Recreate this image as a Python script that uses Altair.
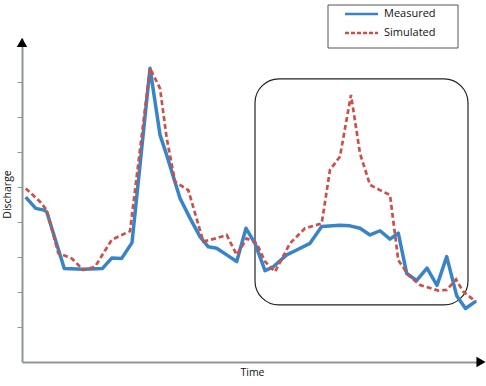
import altair as alt
import pandas as pd

# Measured series (time units, discharge in tick units)
meas_t = [0.37, 1.37, 2.2, 2.47, 4.23, 6.13, 8.03, 8.97, 9.97, 11.0, 12.8, 13.8, 14.47, 15.8,
          16.8, 17.8, 18.63, 19.47, 20.47, 21.47, 22.4, 23.3, 24.3, 25.13, 26.47, 27.47, 28.8,
          29.97, 31.8, 32.8, 33.8, 34.8, 35.8, 36.8, 37.63, 38.47, 39.47, 40.5, 41.5, 42.47,
          43.47, 44.35, 45.4]
meas_v = [4.71, 4.39, 4.34, 4.29, 2.67, 2.65, 2.67, 2.97, 2.96, 3.41, 8.39, 6.49, 5.91, 4.68,
          4.11, 3.58, 3.29, 3.25, 3.06, 2.87, 3.82, 3.39, 2.61, 2.72, 3.06, 3.2, 3.39,
          3.87, 3.91, 3.89, 3.82, 3.63, 3.75, 3.51, 3.68, 2.53, 2.33, 2.68, 2.19, 3.01,
          1.89, 1.53, 1.74]

# Simulated series
sim_t = [0.37, 1.8, 2.47, 3.63, 4.97, 6.13, 7.3, 8.97, 10.8, 12.8, 13.8, 14.47, 15.3, 16.63,
         18.13, 19.47, 20.47, 21.47, 22.47, 23.47, 24.3, 25.3, 26.8, 28.3, 29.97, 30.8, 31.8,
         32.9, 33.8, 34.8, 35.8, 36.8, 37.63, 38.63, 39.8, 41.63, 42.47, 43.4, 44.13, 45.4]
sim_v = [4.96, 4.58, 4.34, 3.11, 2.96, 2.63, 2.72, 3.49, 3.74, 8.39, 7.82, 6.4, 5.15, 4.91,
         3.44, 3.54, 3.63, 3.06, 3.53, 3.39, 2.87, 2.58, 3.39, 3.82, 3.96, 5.49, 5.87,
         7.63, 5.96, 5.06, 4.91, 4.77, 2.91, 2.49, 2.2, 2.04, 2.06, 2.36, 2.01, 1.72]

series_names = ["Measured", "Simulated"]
series_colors = ["#3884c8", "#cc4f48"]

# Highlighted period (data coordinates)
box_t = [23.3, 44.6]
box_v = [1.63, 8.09]

T_MAX = 46.0
V_MAX = 9.257

meas_df = pd.DataFrame({"t": meas_t, "v": meas_v, "series": series_names[0]})
sim_df = pd.DataFrame({"t": sim_t, "v": sim_v, "series": series_names[1]})
box_df = pd.DataFrame({"t1": [box_t[0]], "t2": [box_t[1]], "v1": [box_v[0]], "v2": [box_v[1]]})
yarrow_df = pd.DataFrame({"t": [0.0], "v": [9.13]})
xarrow_df = pd.DataFrame({"t": [45.9], "v": [0.0]})
leg_meas_df = pd.DataFrame({"series": [series_names[0]]})
leg_sim_df = pd.DataFrame({"series": [series_names[1]]})

xscale = alt.Scale(domain=[0, T_MAX], nice=False, zero=False)
yscale = alt.Scale(domain=[0, V_MAX], nice=False, zero=False)

FONT = "Open Sans"

xaxis = alt.Axis(title="Time", ticks=False, labels=False, grid=False,
                 domainColor="#8e9696", domainWidth=2, titleFont=FONT,
                 titleFontSize=10.5, titleFontWeight="normal", titleColor="#111",
                 titlePadding=5)
yaxis = alt.Axis(title="Discharge", values=[1, 2, 3, 4, 5, 6, 7, 8], labels=False,
                 grid=False, tickSize=5, tickColor="#8e9696", tickWidth=1,
                 domainColor="#8e9696", domainWidth=2, titleFont=FONT,
                 titleFontSize=10.5, titleFontWeight="normal", titleColor="#111",
                 titlePadding=4, titleY=156)

box = alt.Chart(box_df).mark_rect(cornerRadius=24, stroke="#222", strokeWidth=1.2,
                                  fillOpacity=0).encode(
    x=alt.X("t1:Q", scale=xscale, axis=xaxis), x2="t2:Q",
    y=alt.Y("v1:Q", scale=yscale, axis=yaxis), y2="v2:Q")

meas = alt.Chart(meas_df).mark_line(strokeWidth=3.5, strokeJoin="round",
                                    color=series_colors[0]).encode(
    x=alt.X("t:Q", scale=xscale, axis=xaxis),
    y=alt.Y("v:Q", scale=yscale, axis=yaxis))

sim = alt.Chart(sim_df).mark_line(strokeWidth=2.7, strokeDash=[5, 3],
                                  color=series_colors[1]).encode(
    x=alt.X("t:Q", scale=xscale, axis=xaxis),
    y=alt.Y("v:Q", scale=yscale, axis=yaxis))

yarrow = alt.Chart(yarrow_df).mark_point(shape="triangle-up", filled=True, color="black",
                                         size=110, opacity=1).encode(
    x=alt.X("t:Q", scale=xscale, axis=xaxis), y=alt.Y("v:Q", scale=yscale, axis=yaxis))
xarrow = alt.Chart(xarrow_df).mark_point(shape="triangle-right", filled=True, color="black",
                                         size=110, opacity=1).encode(
    x=alt.X("t:Q", scale=xscale, axis=xaxis), y=alt.Y("v:Q", scale=yscale, axis=yaxis))

# Legend (drawn as a boxed key above the plot area)
leg_box = alt.Chart(leg_meas_df).mark_rect(fill="white", stroke="#555", strokeWidth=1).encode(
    x=alt.value(306), x2=alt.value(436), y=alt.value(-33), y2=alt.value(10))
leg_l1 = alt.Chart(leg_meas_df).mark_rule(strokeWidth=2.5, color=series_colors[0]).encode(
    x=alt.value(323), x2=alt.value(356), y=alt.value(-24))
leg_l2 = alt.Chart(leg_sim_df).mark_rule(strokeWidth=2.5, strokeDash=[4, 2],
                                         color=series_colors[1]).encode(
    x=alt.value(323), x2=alt.value(356), y=alt.value(-5))
leg_t1 = alt.Chart(leg_meas_df).mark_text(align="left", baseline="middle", font=FONT,
                                          fontSize=11, color="#111").encode(
    x=alt.value(362), y=alt.value(-24), text="series:N")
leg_t2 = alt.Chart(leg_sim_df).mark_text(align="left", baseline="middle", font=FONT,
                                         fontSize=11, color="#111").encode(
    x=alt.value(362), y=alt.value(-5), text="series:N")

chart = alt.layer(box, meas, sim, yarrow, xarrow,
                  leg_box, leg_l1, leg_l2, leg_t1, leg_t2).properties(
    width=460, height=324,
    autosize=alt.AutoSizeParams(type="none"),
    padding={"left": 22, "top": 38, "right": 4, "bottom": 24},
    background="white",
).configure_view(strokeWidth=0)

chart.save("out.html", embed_options={"renderer": "svg", "actions": False})
